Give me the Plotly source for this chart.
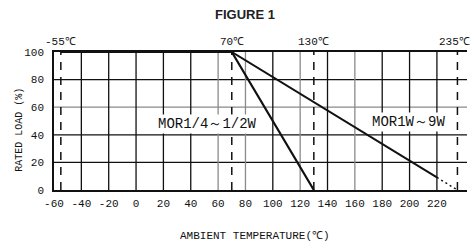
import plotly.graph_objects as go

# ---- data ----
x_ticks = [-60, -40, -20, 0, 20, 40, 60, 80, 100, 120, 140, 160, 180, 200, 220, 240]
y_ticks = [0, 20, 40, 60, 80, 100]
grid_x = [-40, -20, 0, 20, 40, 60, 80, 100, 120, 140, 160, 180, 200, 220]
grid_y = [20, 40, 60, 80]
light_grid_x = [60, 80, 120, 160]
light_grid_y = [60]
marker_temps = [-55, 70, 130, 235]
marker_labels = ["-55℃", "70℃", "130℃", "235℃"]

small_temp = [-55, 70, 130]
small_load = [100, 100, 0]
small_name = "MOR1/4～1/2W"

big_temp_solid = [70, 220]
big_load_solid = [100, 9.1]
big_temp_dot = [220, 235]
big_load_dot = [9.1, 0]
big_name = "MOR1W～9W"

MONO = "Liberation Mono, DejaVu Sans Mono, monospace"

fig = go.Figure()

shapes = []
for gx in grid_x:
    col = "#8a8a8a" if gx in light_grid_x else "#111111"
    shapes.append(dict(type="line", xref="x", yref="y", x0=gx, x1=gx, y0=0, y1=100,
                       line=dict(color=col, width=1.3), layer="below"))
for gy in grid_y:
    col = "#8a8a8a" if gy in light_grid_y else "#111111"
    shapes.append(dict(type="line", xref="paper", yref="y", x0=0, x1=1, y0=gy, y1=gy,
                       line=dict(color=col, width=1.3), layer="below"))
for mt in marker_temps:
    shapes.append(dict(type="line", xref="x", yref="y", x0=mt, x1=mt, y0=0, y1=100,
                       line=dict(color="#111111", width=1.5, dash="8px,7px"), layer="below"))

fig.add_trace(go.Scatter(x=small_temp, y=small_load, mode="lines", cliponaxis=False,
                         line=dict(color="#111111", width=2.2), showlegend=False))
fig.add_trace(go.Scatter(x=big_temp_solid, y=big_load_solid, mode="lines", cliponaxis=False,
                         line=dict(color="#111111", width=2), showlegend=False))
fig.add_trace(go.Scatter(x=big_temp_dot, y=big_load_dot, mode="lines", cliponaxis=False,
                         line=dict(color="#111111", width=1.5, dash="2px,3px"), showlegend=False))

annotations = []
for mt, lab in zip(marker_temps, marker_labels):
    annotations.append(dict(x=mt, y=1.075, xref="x", yref="paper", text=lab, showarrow=False,
                            font=dict(family=MONO, size=11, color="#111111"),
                            xanchor="center", yanchor="middle",
                            xshift=-3 if mt == marker_temps[-1] else 0))
annotations.append(dict(x=52, y=48, xref="x", yref="y", text=small_name, showarrow=False,
                        font=dict(family=MONO, size=14, color="#111111"), bgcolor="white",
                        borderpad=1))
annotations.append(dict(x=199, y=49, xref="x", yref="y", text=big_name, showarrow=False,
                        font=dict(family=MONO, size=14, color="#111111"), bgcolor="white",
                        borderpad=1))
annotations.append(dict(x=0.487, y=-0.335, xref="paper", yref="paper",
                        text="AMBIENT TEMPERATURE(℃)", showarrow=False,
                        font=dict(family=MONO, size=11, color="#111111"),
                        xanchor="center", yanchor="middle"))
annotations.append(dict(x=-0.083, y=0.435, xref="paper", yref="paper",
                        text="RATED LOAD (%)", showarrow=False, textangle=-90,
                        font=dict(family=MONO, size=10, color="#111111"),
                        xanchor="center", yanchor="middle"))

fig.update_layout(
    width=470, height=241,
    margin=dict(l=54, r=3, t=52, b=51, autoexpand=False),
    paper_bgcolor="white", plot_bgcolor="white",
    title=dict(text="<b>FIGURE 1</b>", x=245 / 470, xanchor="center", y=1 - 14 / 241,
               yanchor="middle", automargin=False,
               font=dict(family="Liberation Sans, Arial, sans-serif",
                         size=13, color="#222222")),
    shapes=shapes, annotations=annotations,
    xaxis=dict(range=[-60, 242], tickvals=x_ticks, ticktext=[str(v) for v in x_ticks],
               showgrid=False, zeroline=False, showline=True, linecolor="#111111",
               linewidth=1.5, mirror=True, ticks="", ticklabelstandoff=2, automargin=False,
               tickfont=dict(family=MONO, size=11, color="#111111")),
    yaxis=dict(range=[0, 100], tickvals=y_ticks, showgrid=False, zeroline=False,
               showline=True, linecolor="#111111", linewidth=1.5, ticks="",
               ticklabelstandoff=6, automargin=False,
               tickfont=dict(family=MONO, size=11, color="#111111")),
)

fig.write_html("out.html", config={"displayModeBar": False},
               post_script="document.body.style.margin='0';")
